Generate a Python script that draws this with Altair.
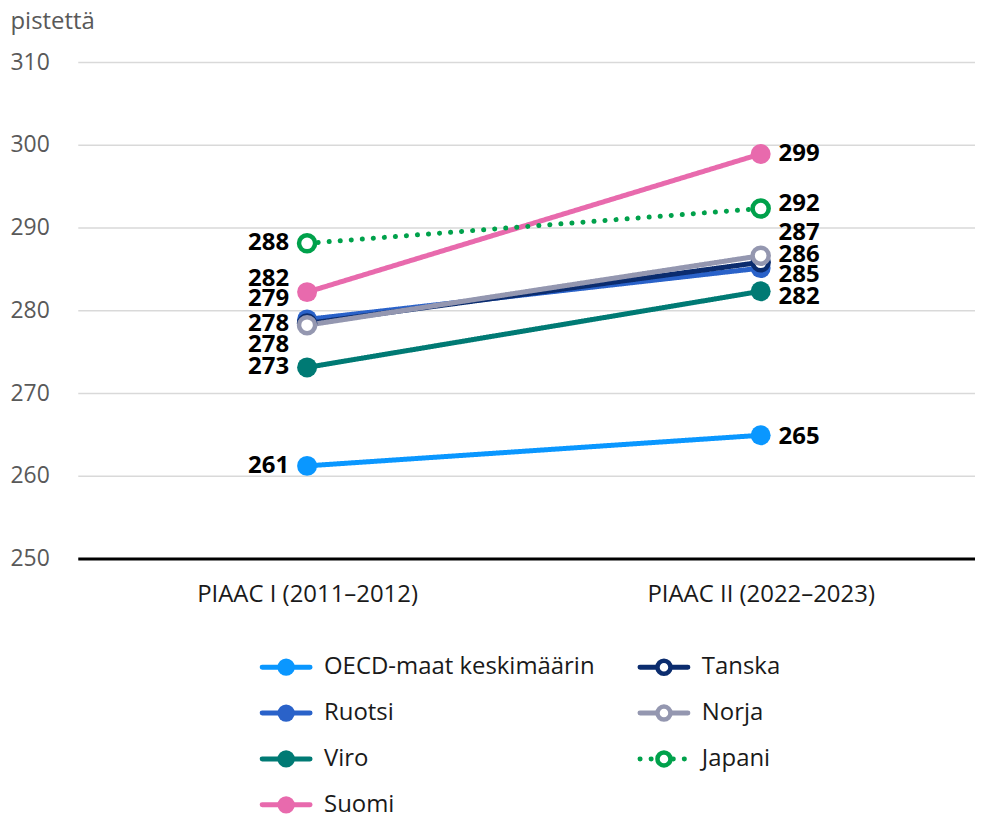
import altair as alt
import pandas as pd

periods = ["PIAAC I (2011–2012)", "PIAAC II (2022–2023)"]
series = ["OECD-maat keskimäärin", "Ruotsi", "Viro", "Suomi", "Tanska", "Norja", "Japani"]
colors = ["#0a97ff", "#2a62c9", "#007a74", "#e86aad", "#0b2c6e", "#9497b0", "#00a14b"]
open_marker = [False, False, False, False, True, True, True]
values_1 = [261.2, 278.9, 273.1, 282.2, 278.4, 278.2, 288.1]
values_2 = [264.9, 285.1, 282.3, 298.9, 285.8, 286.6, 292.3]
labels_1 = ["261", "279", "273", "282", "278", "278", "288"]
labels_2 = ["265", "285", "282", "299", "286", "287", "292"]
nudge_1 = [0, -20, 0, -13, 0, 20, 0]
nudge_2 = [2, 7, 6, 0, -7, -23, -5]
legend_col = [0, 0, 0, 0, 1, 1, 1]
legend_row = [0, 1, 2, 3, 0, 1, 2]

rows = []
for i, s in enumerate(series):
    for k, (v, lab, nd) in enumerate(((values_1[i], labels_1[i], nudge_1[i]),
                                      (values_2[i], labels_2[i], nudge_2[i]))):
        rows.append({"series": s, "period": periods[k], "idx": k, "value": v, "label": lab,
                     "nudge": nd, "order": i, "open": open_marker[i]})
df = pd.DataFrame(rows)
leg = pd.DataFrame({"series": series, "col": legend_col, "row": legend_row,
                    "open": open_marker, "order": list(range(len(series)))})

FONT = "Open Sans"
W, H = 900, 498
PX_PER_UNIT = H / 60.0
color_scale = alt.Scale(domain=series, range=colors)
dash_scale = alt.Scale(domain=series, range=[[1, 0]] * 6 + [[0.1, 11]])

label_expr = "datum.value == 0 ? '%s' : '%s'" % (periods[0], periods[1])
x_enc = alt.X("idx:Q", scale=alt.Scale(domain=[-230 / 455, -230 / 455 + W / 455], nice=False, zero=False),
              axis=alt.Axis(title=None, values=[0, 1], labelExpr=label_expr, labelFontSize=24,
                            labelColor="#1a1a1a", labelFont=FONT, labelAngle=0, labelLimit=0,
                            domainColor="#000000", domainWidth=3, ticks=False, tickSize=0,
                            labelPadding=24, grid=False, labelFlush=False, labelOverlap=False))
y_enc = alt.Y("value:Q", scale=alt.Scale(domain=[250, 310], nice=False, zero=False),
              axis=alt.Axis(values=[250, 260, 270, 280, 290, 300, 310], title="pistettä",
                            titleAngle=0, titleX=-68, titleY=-41, titleAlign="left",
                            titleBaseline="middle", titleFontSize=24, titleFontWeight="normal",
                            titleColor="#595959", titleFont=FONT, titleLimit=0,
                            labelAlign="left", labelPadding=68, labelFontSize=23,
                            labelColor="#595959", labelFont=FONT, labelBaseline="middle",
                            domain=False, ticks=False, tickSize=0,
                            gridColor="#d9d9d9", gridWidth=1.5))

base = alt.Chart(df)
lines = base.mark_line(strokeWidth=5, strokeCap="round").encode(
    x=x_enc, y=y_enc,
    color=alt.Color("series:N", scale=color_scale, legend=None),
    strokeDash=alt.StrokeDash("series:N", scale=dash_scale, legend=None),
    order=alt.Order("idx:Q"),
)
filled_pts = base.transform_filter("!datum.open").mark_circle(size=400, opacity=1).encode(
    x="idx:Q", y="value:Q",
    color=alt.Color("series:N", scale=color_scale, legend=None),
)
open_pts = base.transform_filter("datum.open").mark_point(size=260, strokeWidth=4.5, fill="white",
                                                           filled=False, opacity=1).encode(
    x="idx:Q", y="value:Q",
    stroke=alt.Stroke("series:N", scale=color_scale, legend=None),
)
labels = base.transform_calculate(label_y="datum.value - datum.nudge / %f" % PX_PER_UNIT)
text_left = labels.transform_filter("datum.idx == 0").mark_text(
    align="right", baseline="middle", dx=-18, fontSize=24, fontWeight="bold", font=FONT,
    color="#000000").encode(x="idx:Q", y="label_y:Q", text="label:N")
text_right = labels.transform_filter("datum.idx == 1").mark_text(
    align="left", baseline="middle", dx=18, fontSize=24, fontWeight="bold", font=FONT,
    color="#000000").encode(x="idx:Q", y="label_y:Q", text="label:N")

main = alt.layer(lines, filled_pts, open_pts, text_left, text_right)

lx = alt.X("col:Q", scale=alt.Scale(domain=[0, 1], range=[209, 588]), axis=None)
ly = alt.Y("row:Q", scale=alt.Scale(domain=[0, 3], range=[607, 745]), axis=None)
lbase = alt.Chart(leg)
leg_lines = lbase.mark_rule(strokeWidth=5, strokeCap="round", xOffset=-24, x2Offset=24).encode(
    x=lx, x2="col:Q", y=ly,
    color=alt.Color("series:N", scale=color_scale, legend=None),
    strokeDash=alt.StrokeDash("series:N", scale=dash_scale, legend=None),
)
leg_filled = lbase.transform_filter("!datum.open").mark_circle(size=300, opacity=1).encode(
    x=lx, y=ly, color=alt.Color("series:N", scale=color_scale, legend=None))
leg_open = lbase.transform_filter("datum.open").mark_point(size=170, strokeWidth=4.5, fill="white",
                                                          filled=False, opacity=1).encode(
    x=lx, y=ly, stroke=alt.Stroke("series:N", scale=color_scale, legend=None))
leg_text = lbase.mark_text(align="left", baseline="middle", dx=38, fontSize=24, font=FONT,
                           color="#1a1a1a").encode(x=lx, y=ly, text="series:N")
legend_layer = alt.layer(leg_lines, leg_filled, leg_open, leg_text)

chart = alt.layer(main, legend_layer).resolve_scale(x="independent", y="independent").properties(
    width=W, height=H, padding={"left": 2, "top": 0, "right": 0, "bottom": 0}
).configure_view(stroke=None)

chart.save("out.html", embed_options={"renderer": "svg", "actions": False})
